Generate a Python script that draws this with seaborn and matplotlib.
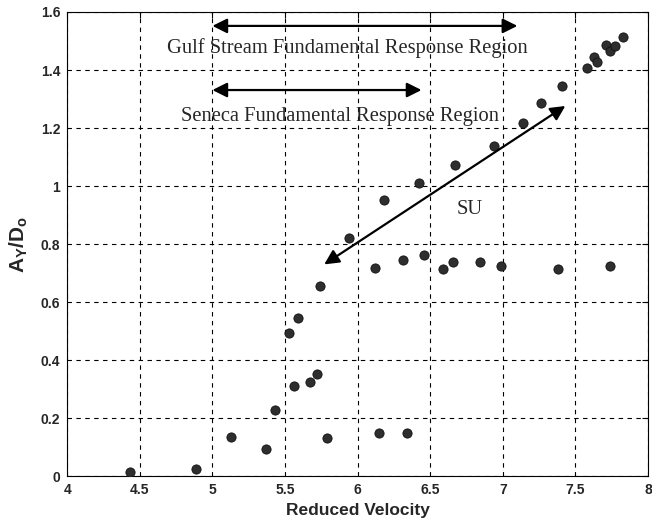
import matplotlib
matplotlib.use('Agg')
import matplotlib.pyplot as plt
import seaborn as sns
import pandas as pd

# Reduced velocity vs amplitude ratio
reduced_velocity = [4.43, 4.89, 5.13, 5.37, 5.43, 5.56, 5.67, 5.72, 5.79, 6.15, 6.34,
                    5.53, 5.59, 5.74, 5.94, 6.12, 6.31, 6.46, 6.59, 6.66, 6.84, 6.99,
                    7.38, 7.74, 6.18, 6.42, 6.67, 6.94, 7.14, 7.26, 7.41, 7.58, 7.63,
                    7.65, 7.71, 7.74, 7.77, 7.83]
amplitude = [0.014, 0.024, 0.134, 0.094, 0.227, 0.311, 0.326, 0.353, 0.131, 0.150, 0.150,
             0.495, 0.544, 0.657, 0.821, 0.717, 0.746, 0.761, 0.714, 0.737, 0.737, 0.726,
             0.714, 0.723, 0.951, 1.011, 1.072, 1.139, 1.218, 1.285, 1.345, 1.406, 1.446,
             1.429, 1.486, 1.467, 1.483, 1.515]

data = pd.DataFrame({'Reduced Velocity': reduced_velocity, 'Amplitude': amplitude})

sns.set_style("white")
plt.rcParams['font.family'] = ['Liberation Sans', 'DejaVu Sans']
plt.rcParams['mathtext.fontset'] = 'custom'
plt.rcParams['mathtext.rm'] = 'Liberation Sans:bold'
plt.rcParams['mathtext.it'] = 'Liberation Sans:bold'
plt.rcParams['mathtext.bf'] = 'Liberation Sans:bold'

fig, ax = plt.subplots(figsize=(6.52, 5.21), dpi=100)
fig.subplots_adjust(left=0.103, right=0.994, top=0.977, bottom=0.086)

sns.scatterplot(data=data, x='Reduced Velocity', y='Amplitude', ax=ax,
                color='#2e2e2e', s=44, edgecolor='#111111', linewidth=0.6, zorder=3)

ax.set_xlim(4, 8)
ax.set_ylim(0, 1.6)
ax.set_xticks([4, 4.5, 5, 5.5, 6, 6.5, 7, 7.5, 8])
ax.set_xticklabels(['4', '4.5', '5', '5.5', '6', '6.5', '7', '7.5', '8'])
ax.set_yticks([0, 0.2, 0.4, 0.6, 0.8, 1.0, 1.2, 1.4, 1.6])
ax.set_yticklabels(['0', '0.2', '0.4', '0.6', '0.8', '1', '1.2', '1.4', '1.6'])
ax.grid(True, color='black', linestyle=(0, (4, 4)), linewidth=0.8)
ax.set_axisbelow(True)
for sp in ax.spines.values():
    sp.set_color('black')
    sp.set_linewidth(0.8)
ax.tick_params(direction='in', length=4, color='black', labelsize=10, pad=5,
               top=True, right=True)
for lab in ax.get_xticklabels() + ax.get_yticklabels():
    lab.set_fontweight('bold')

ax.set_xlabel('Reduced Velocity', fontsize=12.5, fontweight='bold', labelpad=4)
ax.set_ylabel(r'$\mathrm{A_Y/D_o}$', fontsize=15, labelpad=8)

arrow = dict(arrowstyle='<|-|>', color='black', lw=1.6, mutation_scale=22, shrinkA=0, shrinkB=0)
ax.annotate('', xy=(7.1, 1.552), xytext=(5.0, 1.552), arrowprops=arrow)
ax.annotate('', xy=(6.44, 1.331), xytext=(5.0, 1.331), arrowprops=arrow)
ax.annotate('', xy=(7.43, 1.276), xytext=(5.77, 0.73), arrowprops=arrow)

serif = ['Liberation Serif', 'DejaVu Serif']
ax.text(5.93, 1.475, 'Gulf Stream Fundamental Response Region', ha='center', va='center',
        fontsize=14.8, family=serif)
ax.text(5.88, 1.24, 'Seneca Fundamental Response Region', ha='center', va='center',
        fontsize=14.8, family=serif)
ax.text(6.77, 0.92, 'SU', ha='center', va='center', fontsize=14.8, family=serif)

plt.savefig('out.png', dpi=100)
plt.close()
